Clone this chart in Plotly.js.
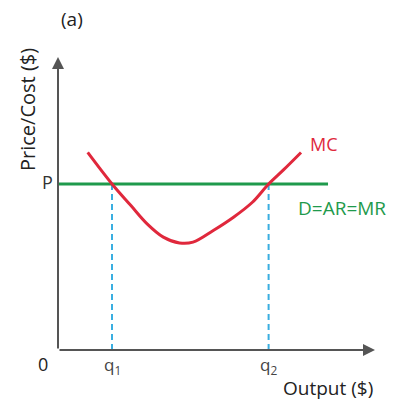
<!DOCTYPE html>
<html>
<head>
<meta charset="utf-8">
<script src="https://cdn.plot.ly/plotly-3.0.1.min.js"></script>
<style>html,body{margin:0;padding:0;background:#fff;}#chart{width:406px;height:402px;}</style>
</head>
<body>
<div id="chart"></div>
<script>
// Values (arbitrary units)
const mcX = [1.1, 2.0, 2.7, 3.3, 3.9, 4.5, 5.0, 5.75, 6.5, 7.2, 7.8, 8.35, 9.0];
const mcY = [11.9, 10.0, 8.7, 7.6, 6.8, 6.45, 6.5, 7.2, 8.0, 8.9, 10.0, 10.85, 11.9];
const priceP = 10;
const priceLineX = [0, 10];
const q1 = 2.0;
const q2 = 7.8;
const xMax = 11.74;
const yMax = 17.65;

const font = "Open Sans";
const red = '#e0283c';
const green = '#1f9a4c';
const blue = '#3aaee0';
const axisColor = '#555555';

const traces = [
  {x: [q1, q1], y: [0, priceP], mode: 'lines', line: {color: blue, width: 2, dash: '6px,4px'}, hoverinfo: 'skip', showlegend: false},
  {x: [q2, q2], y: [0, priceP], mode: 'lines', line: {color: blue, width: 2, dash: '6px,4px'}, hoverinfo: 'skip', showlegend: false},
  {x: priceLineX, y: [priceP, priceP], mode: 'lines', name: 'D=AR=MR', line: {color: green, width: 3}, showlegend: false},
  {x: mcX, y: mcY, mode: 'lines', name: 'MC', line: {color: red, width: 3, shape: 'spline', smoothing: 1}, showlegend: false}
];

const W = 406, H = 402, mL = 58, mR = 31, mT = 57, mB = 52;
const pw = W - mL - mR, ph = H - mT - mB;
function px(x, y) { return {xref: 'paper', yref: 'paper', x: (x - mL) / pw, y: (H - mB - y) / ph, xanchor: 'center', yanchor: 'middle'}; }
function f(size, color) { return {family: font, size: size, color: color}; }

const annotations = [
  {x: xMax, y: 0, ax: 0, ay: 0, xref: 'x', yref: 'y', axref: 'x', ayref: 'y', showarrow: true, arrowhead: 2, arrowsize: 1.2, arrowwidth: 2, arrowcolor: axisColor, text: ''},
  {x: 0, y: yMax, ax: 0, ay: 0, xref: 'x', yref: 'y', axref: 'x', ayref: 'y', showarrow: true, arrowhead: 2, arrowsize: 1.2, arrowwidth: 2, arrowcolor: axisColor, text: ''},
  Object.assign(px(43, 364), {text: '0', showarrow: false, font: f(18, '#222')}),
  {x: q1, y: 0, xref: 'x', yref: 'y', xanchor: 'center', yanchor: 'top', yshift: -1, text: 'q<sub>1</sub>', showarrow: false, font: f(17, '#444')},
  {x: q2, y: 0, xref: 'x', yref: 'y', xanchor: 'center', yanchor: 'top', yshift: -1, text: 'q<sub>2</sub>', showarrow: false, font: f(17, '#444')},
  Object.assign(px(47, 182), {text: 'P', showarrow: false, font: f(18, '#333')}),
  Object.assign(px(324, 144), {text: 'MC', showarrow: false, font: f(18, red)}),
  Object.assign(px(342, 208), {text: 'D=AR=MR', showarrow: false, font: f(19, green)}),
  Object.assign(px(328, 388), {text: 'Output ($)', showarrow: false, font: f(19, '#222')}),
  Object.assign(px(72, 19), {text: '(a)', showarrow: false, font: f(19, '#222')}),
  Object.assign(px(27, 110), {text: 'Price/Cost ($)', textangle: -90, showarrow: false, font: f(20, '#222')})
];

const layout = {
  width: W, height: H,
  margin: {l: mL, r: mR, t: mT, b: mB, pad: 0},
  paper_bgcolor: '#ffffff', plot_bgcolor: '#ffffff',
  showlegend: false,
  font: {family: font, size: 17, color: '#222'},
  xaxis: {range: [0, xMax], showgrid: false, zeroline: false, showticklabels: false, ticks: '', showline: false, fixedrange: true},
  yaxis: {range: [0, yMax], showgrid: false, zeroline: false, showticklabels: false, ticks: '', showline: false, fixedrange: true},
  annotations: annotations
};

Plotly.newPlot('chart', traces, layout, {displayModeBar: false, staticPlot: true});
</script>
</body>
</html>
